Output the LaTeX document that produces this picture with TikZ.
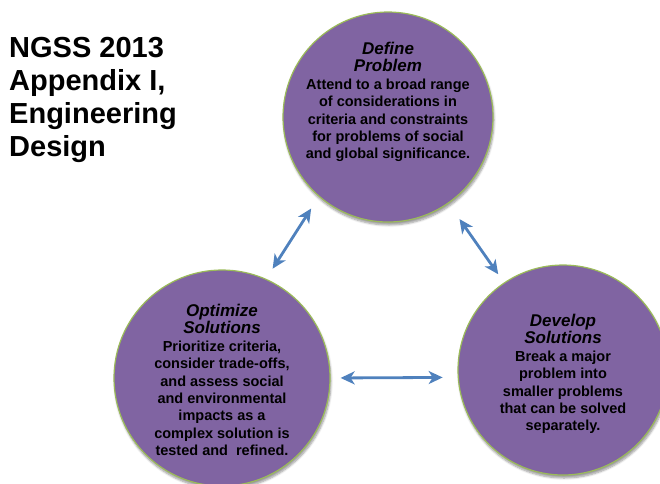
\documentclass[tikz,border=0pt]{standalone}
\usepackage{fontspec}
\setmainfont{Liberation Sans}
\usetikzlibrary{arrows.meta,shadows.blur}
\definecolor{stepfill}{HTML}{8064A2}
\definecolor{stepline}{HTML}{9BBB59}
\definecolor{arrowblue}{HTML}{4F81BD}
\newcommand{\stephead}{\fontsize{17}{18}\selectfont\bfseries\itshape}
\newcommand{\stepbody}{\fontsize{14.5}{17.4}\selectfont\bfseries\upshape}
\tikzset{
    stepcircle/.style={circle, minimum size=#1, inner sep=0pt, fill=stepfill,
        draw=stepline, line width=1.2pt,
        blur shadow={shadow xshift=1pt, shadow yshift=-3pt, shadow blur steps=6, shadow opacity=40}},
    steptext/.style={align=center, inner sep=0pt, font=\stepbody},
    linkarrow/.style={arrowblue, line width=2.8pt,
        {Stealth[length=14pt,width=13pt,inset=4pt]}-{Stealth[length=14pt,width=13pt,inset=4pt]}}
}
\begin{document}
\begin{tikzpicture}[x=1pt, y=-1pt]
    \useasboundingbox (0,0) rectangle (660,483);
    \node[anchor=north west, align=left, inner sep=0pt,
        font=\fontsize{29}{33}\selectfont\bfseries] (title) at (9,37)
        {NGSS 2013\\Appendix I,\\Engineering\\Design};

    \node[stepcircle=210pt] (define) at (388,117) {};
    \node[stepcircle=216pt] (optimize) at (222,378) {};
    \node[stepcircle=210pt] (develop) at (563,370) {};

    \node[steptext, yshift=15pt] (definetext) at (define)
        {\stephead Define\\\stephead Problem\\Attend to a broad range\\of considerations in\\criteria and constraints\\for problems of social\\and global significance.};
    \node[steptext, yshift=-2pt] (optimizetext) at (optimize)
        {\stephead Optimize\\\stephead Solutions\\Prioritize criteria,\\consider trade-offs,\\and assess social\\and environmental\\impacts as a\\complex solution is\\tested and\ \ refined.};
    \node[steptext, yshift=-4pt] (developtext) at (develop)
        {\stephead Develop\\\stephead Solutions\\Break a major\\problem into\\smaller problems\\that can be solved\\separately.};

    \draw[linkarrow, shorten <=14pt, shorten >=12pt] (define.229) -- (optimize.66);
    \draw[linkarrow, shorten <=19pt, shorten >=10pt] (define.305) -- (develop.124);
    \draw[linkarrow, shorten <=10pt, shorten >=15pt] (optimize.0) -- (develop.184);
\end{tikzpicture}
\end{document}
